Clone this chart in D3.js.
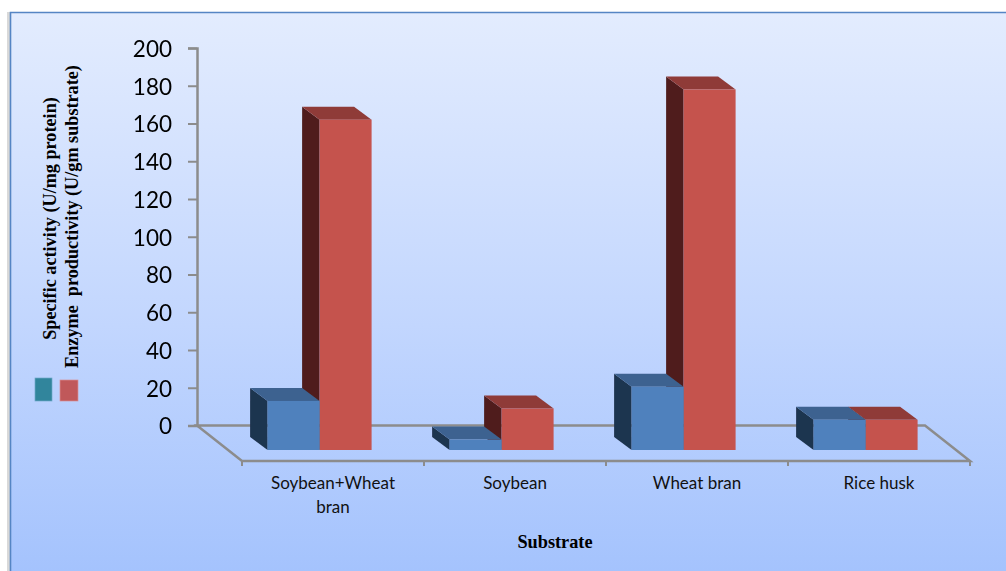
<!DOCTYPE html>
<html>
<head>
<meta charset="utf-8">
<script src="https://cdn.jsdelivr.net/npm/d3@7"></script>
<style>
html,body{margin:0;padding:0;background:#fff;overflow:hidden}
svg{display:block}
</style>
</head>
<body>
<svg id="chart" width="1006" height="571"></svg>
<script>
// Substrate comparison: two series drawn as extruded columns on a raised floor.
const categories = ["Soybean+Wheat bran", "Soybean", "Wheat bran", "Rice husk"];
const specificActivity = [26, 5.5, 33.5, 16];
const enzymeProductivity = [175, 22, 191, 16];
const yTicks = [0, 20, 40, 60, 80, 100, 120, 140, 160, 180, 200];
const categoryLines = [["Soybean+Wheat", "bran"], ["Soybean"], ["Wheat bran"], ["Rice husk"]];
const yTitleLines = ["Specific activity (U/mg protein)", "Enzyme\u00a0 productivity (U/gm substrate)"];
const xTitle = "Substrate";

const W = 1006, H = 571;
const svg = d3.select("#chart");

const defs = svg.append("defs");
const grad = defs.append("linearGradient").attr("id", "panelFill")
  .attr("x1", 0).attr("y1", 0).attr("x2", 0).attr("y2", 1);
grad.append("stop").attr("offset", 0).attr("stop-color", "#e3ecfe");
grad.append("stop").attr("offset", 0.55).attr("stop-color", "#c2d6fe");
grad.append("stop").attr("offset", 1).attr("stop-color", "#a3c2fd");
const shade = defs.append("filter").attr("id", "soft")
  .attr("x", "-5%").attr("y", "-5%").attr("width", "110%").attr("height", "110%");
shade.append("feGaussianBlur").attr("stdDeviation", 0.35);

// Panel with its thin blue edge and a faint drop shadow on the left
svg.append("rect").attr("x", 7).attr("y", 12).attr("width", 3).attr("height", H)
  .attr("fill", "#d9d9d9");
svg.append("rect").attr("x", 10).attr("y", 12).attr("width", W).attr("height", H)
  .attr("fill", "url(#panelFill)");
svg.append("path").attr("d", `M10.5,${H}V12.5H${W}`)
  .attr("fill", "none").attr("stroke", "#5585c4").attr("stroke-width", 1.6);

const plot = svg.append("g").attr("filter", "url(#soft)");

// Scales: the value axis sits on the back wall, the category axis on the floor's front edge
const y = d3.scaleLinear().domain([0, 200]).range([425.5, 48]);
const x = d3.scaleBand().domain(categories).range([242, 970]);
const floorDepth = { dx: 45, dy: 35.5 };
const inset = 25.6;                  // gap between a band edge and its first column
const barDepth = { dx: 17.5, dy: 13 };
const barBaseY = y(0) + 24.5;
const barWidth = x.bandwidth() * 2 / 7;

const axisColor = "#8c8c8c";
const frontY = y(0) + floorDepth.dy;
const backLeft = x.range()[0] - floorDepth.dx;
const backRight = x.range()[1] - floorDepth.dx;

// Floor outline
plot.append("path")
  .attr("d", `M${backLeft},${y(0)}H${backRight}L${x.range()[1]},${frontY}H${x.range()[0]}Z`)
  .attr("fill", "none").attr("stroke", axisColor).attr("stroke-width", 2.5);

// Category ticks hanging off the front edge of the floor
const xEdges = categories.map(c => x(c)).concat(x.range()[1]);
plot.selectAll("line.xtick").data(xEdges).join("line")
  .attr("class", "xtick")
  .attr("x1", d => d).attr("x2", d => d)
  .attr("y1", frontY).attr("y2", frontY + 5)
  .attr("stroke", axisColor).attr("stroke-width", 2);

// Value axis
const yAxis = d3.axisLeft(y).tickValues(yTicks).tickSize(9).tickPadding(16);
const yG = plot.append("g").attr("transform", `translate(${backLeft},0)`).call(yAxis);
yG.select(".domain").attr("stroke", axisColor).attr("stroke-width", 2.5);
yG.selectAll(".tick line").attr("stroke", axisColor).attr("stroke-width", 2);
yG.selectAll(".tick text")
  .attr("font-family", "Lato, 'Open Sans', sans-serif")
  .attr("font-size", 22.5).attr("fill", "#000").attr("dy", "0.37em");

// One extruded column: side wall, top cap, front face
function drawColumn(g, x0, value, colors) {
  const top = y(value) - y(0) + barBaseY;
  const { dx, dy } = barDepth;
  g.append("polygon").attr("fill", colors.side)
    .attr("points", [[x0, top], [x0 - dx, top - dy], [x0 - dx, barBaseY - dy], [x0, barBaseY]].join(" "));
  g.append("polygon").attr("fill", colors.top)
    .attr("points", [[x0, top], [x0 - dx, top - dy], [x0 + barWidth - dx, top - dy], [x0 + barWidth, top]].join(" "));
  g.append("rect").attr("x", x0).attr("y", top)
    .attr("width", barWidth).attr("height", barBaseY - top).attr("fill", colors.front);
}

const blue = { front: "#4f81bd", top: "#3c6290", side: "#1f344f" };
const red = { front: "#c5524e", top: "#8f3a38", side: "#4f1e1c" };

const groups = plot.selectAll("g.group").data(categories).join("g").attr("class", "group");
groups.each(function (c, i) {
  const g = d3.select(this);
  const left = x(c) + inset;
  // The red column goes first so the blue cap overlaps its side wall
  drawColumn(g, left + barWidth, enzymeProductivity[i], red);
  drawColumn(g, left, specificActivity[i], blue);
});

// Category labels
const labels = svg.selectAll("text.cat").data(categories).join("text")
  .attr("class", "cat")
  .attr("text-anchor", "middle")
  .attr("font-family", "Lato, 'Open Sans', sans-serif")
  .attr("font-size", 17).attr("fill", "#111")
  .attr("transform", c => `translate(${x(c) + x.bandwidth() / 2},489)`);
labels.selectAll("tspan").data((c, i) => categoryLines[i]).join("tspan")
  .attr("x", 0).attr("dy", (d, i) => i ? 24 : 0).text(d => d);

// Axis titles
svg.append("text").attr("x", 555).attr("y", 548)
  .attr("text-anchor", "middle")
  .attr("font-family", "'Liberation Serif', serif").attr("font-weight", "bold")
  .attr("font-size", 18.3).attr("fill", "#000").text(xTitle);

svg.selectAll("text.ytitle").data(yTitleLines).join("text")
  .attr("class", "ytitle")
  .attr("text-anchor", "middle")
  .attr("font-family", "'Liberation Serif', serif").attr("font-weight", "bold")
  .attr("font-size", 18.2).attr("fill", "#000")
  .attr("transform", (d, i) => `translate(${i ? 77.5 : 55.5},${i ? 216.5 : 218.5}) rotate(-90)`)
  .text(d => d);

// Legend swatches next to the rotated titles
svg.append("rect").attr("x", 35).attr("y", 378).attr("width", 17).attr("height", 23)
  .attr("fill", "#31859c").attr("stroke", "#6fa8c8").attr("stroke-width", 0.7);
svg.append("rect").attr("x", 60).attr("y", 380).attr("width", 18).attr("height", 21)
  .attr("fill", "#c0585a").attr("stroke", "#d98f95").attr("stroke-width", 0.7);
</script>
</body>
</html>
